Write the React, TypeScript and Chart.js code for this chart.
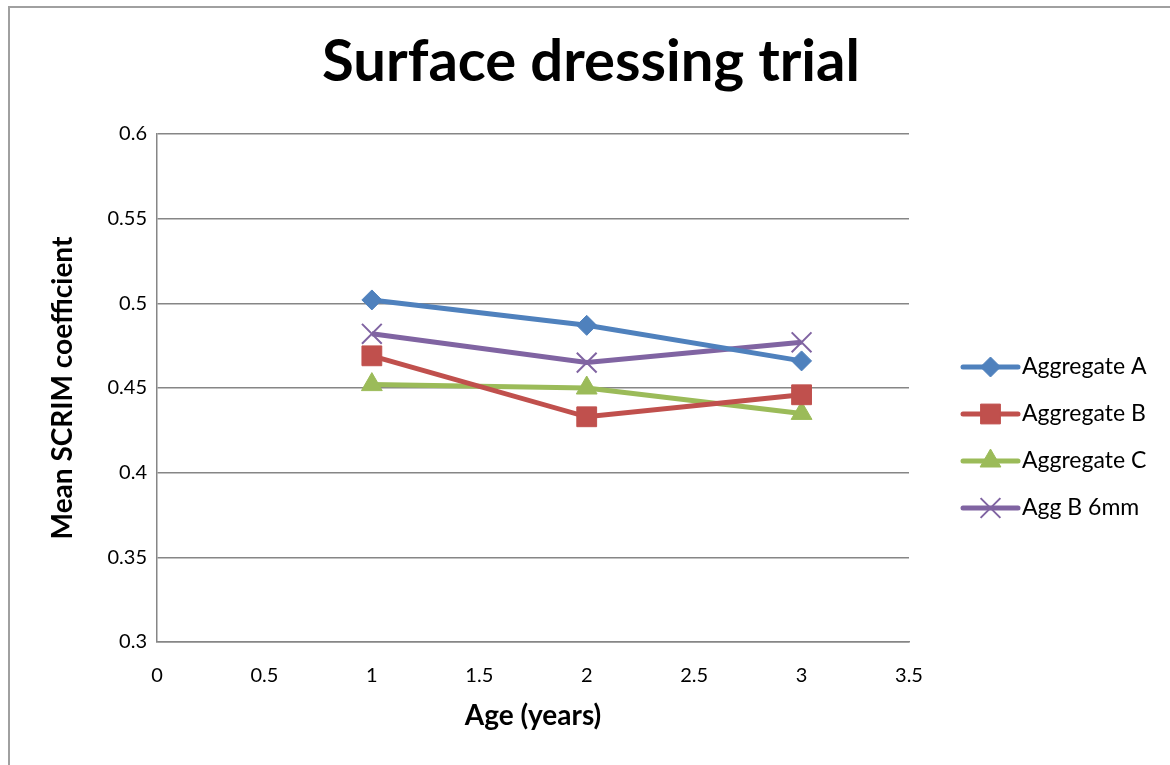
import React, { useEffect, useRef } from "react";
import { Chart, registerables } from "chart.js";
import { drawPoint } from "chart.js/helpers";

Chart.register(...registerables);

const ages = [1, 2, 3];
const aggregateA = [0.502, 0.487, 0.466];
const aggregateB = [0.469, 0.433, 0.446];
const aggregateC = [0.452, 0.45, 0.435];
const aggB6mm = [0.482, 0.465, 0.477];

const chartTitle = "Surface dressing trial";
const seriesNames = ["Aggregate A", "Aggregate B", "Aggregate C", "Agg B 6mm"];
const seriesColors = ["#4F81BD", "#C0504D", "#9BBB59", "#8064A2"];
const seriesStyles = ["rectRot", "rect", "triangle", "crossRot"];
const seriesRadii = [10, 14, 12, 14];

const FONT = "Lato, 'Open Sans', sans-serif";

const frameAndLegend = {
  id: "frameAndLegend",
  beforeDraw(chart: any) {
    const ctx = chart.ctx;
    ctx.save();
    ctx.fillStyle = "#ffffff";
    ctx.fillRect(0, 0, chart.width, chart.height);
    ctx.strokeStyle = "#a0a0a0";
    ctx.lineWidth = 2;
    ctx.beginPath();
    ctx.moveTo(9, chart.height);
    ctx.lineTo(9, 7);
    ctx.lineTo(chart.width, 7);
    ctx.stroke();
    ctx.fillStyle = "#000000";
    ctx.font = `bold 58px ${FONT}`;
    ctx.textAlign = "center";
    ctx.textBaseline = "alphabetic";
    ctx.fillText(chartTitle, chart.width / 2 + 6, 81);
    ctx.restore();
  },
  afterDraw(chart: any) {
    const ctx = chart.ctx;
    const area = chart.chartArea;
    const x0 = area.right + 54;
    const x1 = x0 + 55;
    const yStart = 367;
    const step = 47;
    ctx.save();
    chart.data.datasets.forEach((ds: any, i: number) => {
      const y = yStart + i * step;
      ctx.strokeStyle = ds.borderColor;
      ctx.lineWidth = 5;
      ctx.lineCap = "round";
      ctx.beginPath();
      ctx.moveTo(x0, y);
      ctx.lineTo(x1, y);
      ctx.stroke();
      ctx.fillStyle = ds.pointBackgroundColor;
      ctx.strokeStyle = ds.pointBorderColor;
      ctx.lineWidth = ds.pointBorderWidth;
      ctx.lineCap = "butt";
      drawPoint(ctx, { pointStyle: ds.pointStyle, radius: ds.pointRadius, rotation: 0, borderWidth: ds.pointBorderWidth }, (x0 + x1) / 2, y);
      ctx.fillStyle = "#000000";
      ctx.font = `23px ${FONT}`;
      ctx.textAlign = "left";
      ctx.textBaseline = "middle";
      ctx.fillText(ds.label, x1 + 4, y);
    });
    ctx.restore();
  },
};

export default function App() {
  const ref = useRef<HTMLCanvasElement | null>(null);

  useEffect(() => {
    document.body.style.margin = "0";
    const canvas = ref.current;
    if (!canvas) return;
    const allSeries = [aggregateA, aggregateB, aggregateC, aggB6mm];
    const chart = new Chart(canvas, {
      type: "line",
      data: {
        datasets: allSeries.map((vals, i) => ({
          label: seriesNames[i],
          data: ages.map((a, j) => ({ x: a, y: vals[j] })),
          borderColor: seriesColors[i],
          backgroundColor: seriesColors[i],
          borderWidth: 5,
          tension: 0,
          pointStyle: seriesStyles[i] as any,
          pointRadius: seriesRadii[i],
          pointHoverRadius: seriesRadii[i],
          pointBackgroundColor: seriesColors[i],
          pointBorderColor: seriesColors[i],
          pointBorderWidth: i === 3 ? 2 : 1,
        })),
      },
      options: {
        responsive: false,
        animation: false,
        layout: { padding: { left: 0, right: 261, top: 134, bottom: 0 } },
        plugins: {
          legend: { display: false },
          tooltip: { enabled: false },
          title: { display: false },
        },
        scales: {
          x: {
            type: "linear",
            min: 0,
            max: 3.5,
            ticks: {
              stepSize: 0.5,
              color: "#000000",
              font: { family: FONT, size: 20 },
              padding: 22,
              maxRotation: 0,
              callback: (v: any) => String(Math.round(Number(v) * 10) / 10),
            },
            grid: { display: false, drawTicks: false },
            border: { display: true, color: "#868686", width: 1.5 },
            title: {
              display: true,
              text: "Age (years)",
              color: "#000000",
              font: { family: FONT, size: 28, weight: "bold" },
              padding: { top: 0, bottom: 32 },
            },
            afterFit(scale: any) {
              scale.height = 123;
            },
          },
          y: {
            min: 0.3,
            max: 0.6,
            ticks: {
              stepSize: 0.05,
              color: "#000000",
              font: { family: FONT, size: 20 },
              padding: 10,
              callback: (v: any) => String(Math.round(Number(v) * 100) / 100),
            },
            grid: { color: "#868686", lineWidth: 1.5, drawTicks: false },
            border: { display: true, color: "#868686", width: 1.5 },
            title: {
              display: true,
              text: "Mean SCRIM coefficient",
              color: "#000000",
              font: { family: FONT, size: 28, weight: "bold" },
              padding: { top: 46, bottom: 0 },
            },
            afterFit(scale: any) {
              scale.width = 157;
            },
          },
        },
      },
      plugins: [frameAndLegend],
    });
    return () => chart.destroy();
  }, []);

  return (
    <div style={{ position: "absolute", left: 0, top: 0, width: 1170, height: 765 }}>
      <canvas ref={ref} width={1170} height={765} style={{ width: 1170, height: 765 }} />
    </div>
  );
}
